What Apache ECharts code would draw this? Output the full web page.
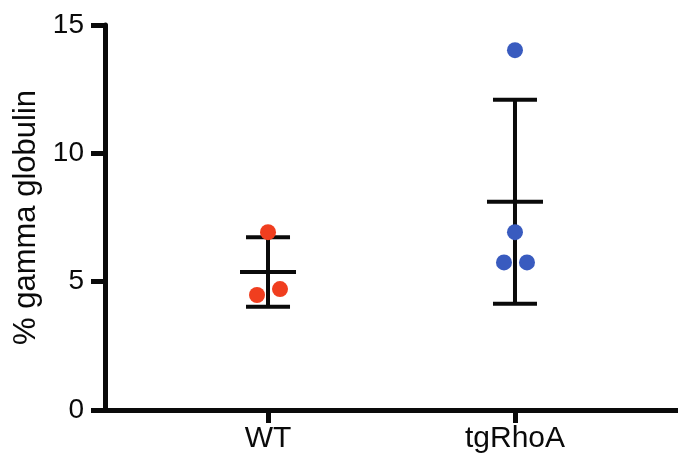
<!DOCTYPE html>
<html>
<head>
<meta charset="utf-8">
<script src="https://cdn.jsdelivr.net/npm/echarts@6/dist/echarts.min.js"></script>
<style>
  html, body { margin: 0; padding: 0; background: #fff; }
  #chart { width: 678px; height: 459px; }
</style>
</head>
<body>
<div id="chart"></div>
<script>
// groups on the x axis (positions 1 and 2)
const categories = ['WT', 'tgRhoA']
// individual values
const wtValues = [6.93, 4.48, 4.71]
const rhoValues = [14.02, 6.93, 5.75, 5.75]
// small sideways jitter (px) so overlapping dots stay visible
const wtJitter = [0, -11, 12]
const rhoJitter = [0, 0, -11, 12]
const yTicks = [0, 5, 10, 15]

const FONT = 'Liberation Sans, Arial, Helvetica, sans-serif'
const INK = '#0a0a0a'

function meanSd(arr) {
  const m = arr.reduce((a, b) => a + b, 0) / arr.length
  const v = arr.reduce((a, b) => a + (b - m) * (b - m), 0) / (arr.length - 1)
  return [m, Math.sqrt(v)]
}

const groups = [wtValues, rhoValues]
const barData = groups.map((vals, i) => {
  const [m, sd] = meanSd(vals)
  return [i + 1, m, m - sd, m + sd]
})

function dots(vals, jitter, x) {
  return vals.map((v, i) => ({ value: [x, v], symbolOffset: [jitter[i], 0] }))
}

const chart = echarts.init(document.getElementById('chart'), null, { renderer: 'canvas' })

chart.setOption({
  animation: false,
  backgroundColor: '#fff',
  grid: { left: 105, right: 0, top: 25, bottom: 49, containLabel: false, outerBoundsMode: 'none' },
  xAxis: {
    type: 'value',
    min: 0.34,
    max: 2.66,
    axisLine: { show: true, lineStyle: { color: INK, width: 5 } },
    axisTick: { show: true, customValues: [1, 2], length: 13, lineStyle: { color: INK, width: 5 } },
    axisLabel: {
      customValues: [1, 2],
      formatter: v => categories[Math.round(v) - 1] || '',
      fontSize: 30, fontFamily: FONT, color: INK, margin: 14
    },
    splitLine: { show: false }
  },
  yAxis: {
    type: 'value',
    min: yTicks[0],
    max: yTicks[yTicks.length - 1],
    interval: 5,
    name: '% gamma globulin',
    nameLocation: 'middle',
    nameGap: 62,
    nameTextStyle: { fontSize: 31, fontFamily: FONT, color: INK },
    axisLine: { show: true, lineStyle: { color: INK, width: 5 } },
    axisTick: { show: true, length: 14, lineStyle: { color: INK, width: 5 } },
    axisLabel: { fontSize: 28, fontFamily: FONT, color: INK, margin: 21 },
    splitLine: { show: false }
  },
  series: [
    {
      type: 'custom',
      z: 2,
      data: barData,
      renderItem: (params, api) => {
        const x = api.value(0)
        const top = api.coord([x, api.value(3)])
        const mid = api.coord([x, api.value(1)])
        const bot = api.coord([x, api.value(2)])
        const style = { stroke: INK, lineWidth: 4 }
        const line = (x1, y1, x2, y2) => ({ type: 'line', shape: { x1, y1, x2, y2 }, style })
        return {
          type: 'group',
          children: [
            line(top[0], top[1], bot[0], bot[1]),
            line(top[0] - 22, top[1], top[0] + 22, top[1]),
            line(bot[0] - 22, bot[1], bot[0] + 22, bot[1]),
            line(mid[0] - 28, mid[1], mid[0] + 28, mid[1])
          ]
        }
      }
    },
    {
      type: 'scatter',
      z: 3,
      symbolSize: 16,
      itemStyle: { color: '#F03E1F', opacity: 1 },
      data: dots(wtValues, wtJitter, 1)
    },
    {
      type: 'scatter',
      z: 3,
      symbolSize: 16,
      itemStyle: { color: '#395BBF', opacity: 1 },
      data: dots(rhoValues, rhoJitter, 2)
    }
  ]
})
</script>
</body>
</html>
